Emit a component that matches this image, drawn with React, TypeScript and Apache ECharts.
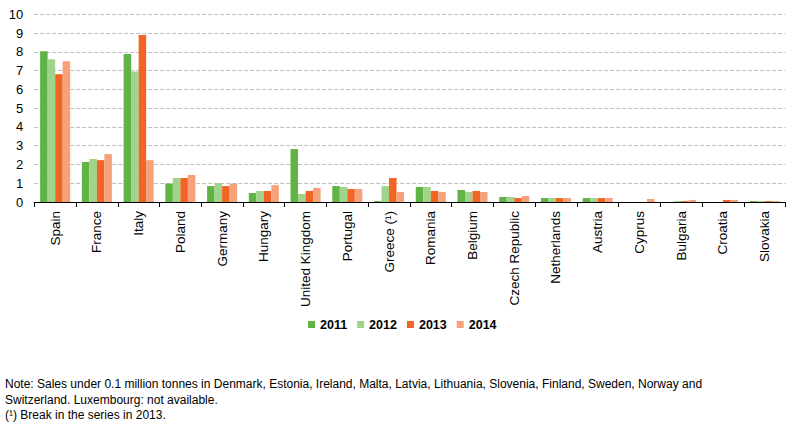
import React, { useEffect, useRef } from "react";
import * as echarts from "echarts";

const categories = [
  "Spain", "France", "Italy", "Poland", "Germany", "Hungary", "United Kingdom",
  "Portugal", "Greece (¹)", "Romania", "Belgium", "Czech Republic", "Netherlands",
  "Austria", "Cyprus", "Bulgaria", "Croatia", "Slovakia",
];
const years = ["2011", "2012", "2013", "2014"];
const v2011 = [8.03, 2.13, 7.89, 0.98, 0.85, 0.48, 2.82, 0.85, 0.05, 0.8, 0.64, 0.27, 0.21, 0.21, null, null, null, 0.05];
const v2012 = [7.6, 2.29, 6.95, 1.28, 1.01, 0.59, 0.43, 0.8, 0.85, 0.8, 0.53, 0.27, 0.21, 0.21, null, 0.05, null, 0.05];
const v2013 = [6.81, 2.23, 8.9, 1.28, 0.85, 0.59, 0.59, 0.69, 1.28, 0.59, 0.59, 0.21, 0.21, 0.21, null, 0.05, 0.11, 0.05];
const v2014 = [7.5, 2.55, 2.23, 1.44, 0.98, 0.9, 0.75, 0.69, 0.53, 0.53, 0.53, 0.32, 0.21, 0.21, 0.16, 0.11, 0.11, 0.05];
const seriesValues = [v2011, v2012, v2013, v2014];
const colors = ["#60b344", "#a0d48a", "#f06424", "#f5a27a"];
const noteLines = [
  "Note: Sales under 0.1 million tonnes in Denmark, Estonia, Ireland, Malta, Latvia, Lithuania, Slovenia, Finland, Sweden, Norway and",
  "Switzerland. Luxembourg: not available.",
  "(¹) Break in the series in 2013.",
];

const FONT = "Arial, 'Liberation Sans', sans-serif";

export default function App() {
  const ref = useRef<HTMLDivElement>(null);
  useEffect(() => {
    if (!ref.current) return;
    const chart = echarts.init(ref.current, null, { renderer: "svg" });
    chart.setOption({
      animation: false,
      textStyle: { fontFamily: FONT },
      grid: { left: 34.3, right: 19.5, top: 14.3, bottom: 222 },
      legend: {
        left: 308,
        top: 318,
        padding: 0,
        itemWidth: 7,
        itemHeight: 7,
        itemGap: 10,
        icon: "rect",
        textStyle: { fontFamily: FONT, fontSize: 12.5, fontWeight: "bold", color: "#000" },
        data: years,
      },
      xAxis: {
        type: "category",
        data: categories,
        axisLine: { lineStyle: { color: "#000", width: 1.2 } },
        axisTick: { show: true, length: 5, interval: 0, lineStyle: { color: "#000" } },
        axisLabel: { rotate: 90, interval: 0, fontSize: 13.5, color: "#000", margin: 9, fontFamily: FONT },
      },
      yAxis: {
        type: "value",
        min: 0,
        max: 10,
        interval: 1,
        axisLine: { show: false },
        axisTick: { show: false },
        axisLabel: { fontSize: 13, color: "#000", margin: 11, fontFamily: FONT },
        splitLine: { lineStyle: { color: "#bfbfbf", type: [4, 2], width: 1 } },
      },
      series: years.map((y, i) => ({
        name: y,
        type: "bar",
        data: seriesValues[i],
        barGap: "0%",
        barCategoryGap: "28%",
        itemStyle: { color: colors[i] },
      })),
      graphic: noteLines.map((t, i) => ({
        type: "text",
        left: 5,
        top: 378 + i * 15.5,
        style: { text: t, fontSize: 12, fontFamily: FONT, fill: "#000" },
      })),
    });
    return () => chart.dispose();
  }, []);
  return (
    <div
      ref={ref}
      style={{ position: "fixed", left: 0, top: 0, width: 805, height: 424, background: "#fff" }}
    />
  );
}
